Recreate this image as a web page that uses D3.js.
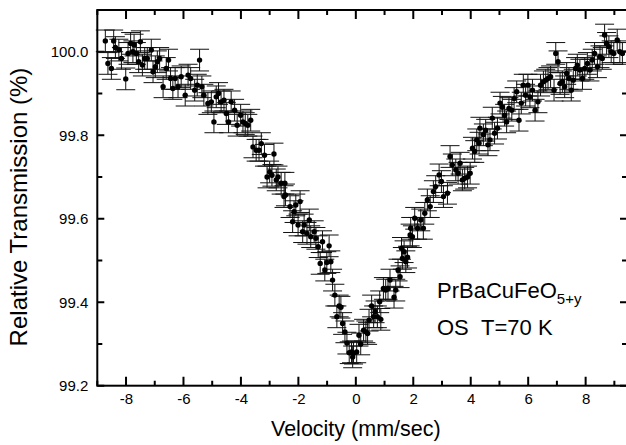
<!DOCTYPE html>
<html>
<head>
<meta charset="utf-8">
<script src="https://cdnjs.cloudflare.com/ajax/libs/d3/7.8.5/d3.min.js"></script>
<style>
  html, body { margin: 0; padding: 0; background: #fff; }
  svg { display: block; font-family: Arial, 'Liberation Sans', sans-serif; }
</style>
</head>
<body>
<svg id="chart" width="626" height="445"></svg>
<script>
// velocity (mm/sec) and relative transmission (%)
const velocity = [
  -8.72, -8.63, -8.51, -8.43, -8.37, -8.25, -8.16, -8.01, -7.93, -7.84,
  -7.76, -7.72, -7.64, -7.56, -7.50, -7.43, -7.35, -7.26, -7.12, -7.06,
  -6.98, -6.91, -6.83, -6.71, -6.60, -6.52, -6.45, -6.37, -6.29, -6.19,
  -6.08, -5.94, -5.84, -5.75, -5.61, -5.52, -5.44, -5.36, -5.29, -5.15,
  -5.03, -4.94, -4.86, -4.78, -4.69, -4.59, -4.51, -4.43, -4.34, -4.22,
  -4.13, -4.01, -3.93, -3.85, -3.76, -3.66, -3.58, -3.47, -3.37, -3.29,
  -3.18, -3.09, -3.00, -2.92, -2.85, -2.77, -2.71, -2.60, -2.50, -2.47,
  -2.45, -2.29, -2.20, -2.15, -2.09, -2.01, -1.94, -1.85, -1.80, -1.70,
  -1.62, -1.57, -1.45, -1.39, -1.31, -1.24, -1.16, -1.08, -1.01, -0.93,
  -0.87, -0.81, -0.73, -0.66, -0.58, -0.52, -0.46, -0.38, -0.31, -0.23,
  -0.15, -0.11, -0.08, 0.03, 0.11, 0.17, 0.27, 0.35, 0.41, 0.46,
  0.55, 0.62, 0.67, 0.75, 0.83, 0.87, 0.96, 1.04, 1.12, 1.19,
  1.33, 1.39, 1.47, 1.54, 1.59, 1.62, 1.68, 1.74, 1.80, 1.89,
  1.91, 1.97, 2.05, 2.15, 2.26, 2.35, 2.40, 2.49, 2.59, 2.70,
  2.78, 2.90, 2.98, 3.05, 3.19, 3.28, 3.36, 3.48, 3.56, 3.63,
  3.71, 3.79, 3.89, 3.98, 4.06, 4.14, 4.21, 4.29, 4.32, 4.44,
  4.52, 4.60, 4.67, 4.75, 4.83, 4.93, 5.02, 5.10, 5.18, 5.25,
  5.33, 5.43, 5.51, 5.60, 5.68, 5.76, 5.83, 5.91, 5.99, 6.06,
  6.15, 6.24, 6.34, 6.43, 6.53, 6.61, 6.69, 6.78, 6.90, 6.96,
  7.04, 7.11, 7.19, 7.27, 7.34, 7.42, 7.50, 7.57, 7.65, 7.71,
  7.80, 7.89, 7.97, 8.06, 8.15, 8.23, 8.31, 8.41, 8.50, 8.58,
  8.66, 8.73, 8.81, 8.89, 8.98, 9.10, 9.19, 9.28
]
const transmission = [
  100.026, 99.972, 99.960, 100.026, 100.010, 100.004, 99.984, 99.935, 99.996, 100.020,
  100.000, 100.016, 99.996, 99.976, 100.024, 99.968, 99.984, 99.984, 100.004, 99.952,
  99.964, 99.976, 99.984, 99.916, 99.960, 99.980, 99.936, 99.912, 99.936, 99.916,
  99.940, 99.896, 99.944, 99.936, 99.908, 99.920, 99.980, 99.916, 99.896, 99.876,
  99.880, 99.832, 99.892, 99.900, 99.880, 99.884, 99.852, 99.832, 99.880, 99.860,
  99.824, 99.848, 99.832, 99.828, 99.824, 99.836, 99.772, 99.764, 99.764, 99.780,
  99.752, 99.700, 99.712, 99.704, 99.755, 99.693, 99.700, 99.685, 99.653, 99.685,
  99.657, 99.629, 99.593, 99.617, 99.633, 99.585, 99.641, 99.569, 99.585, 99.565,
  99.597, 99.557, 99.569, 99.553, 99.533, 99.493, 99.545, 99.477, 99.495, 99.535,
  99.497, 99.453, 99.417, 99.365, 99.391, 99.388, 99.349, 99.329, 99.302, 99.279,
  99.281, 99.269, 99.278, 99.281, 99.321, 99.300, 99.333, 99.329, 99.325, 99.357,
  99.391, 99.365, 99.377, 99.365, 99.401, 99.359, 99.433, 99.429, 99.433, 99.453,
  99.412, 99.429, 99.477, 99.461, 99.529, 99.505, 99.521, 99.497, 99.508, 99.561,
  99.577, 99.557, 99.601, 99.577, 99.597, 99.577, 99.613, 99.645, 99.629, 99.665,
  99.677, 99.705, 99.689, 99.653, 99.661, 99.749, 99.729, 99.717, 99.709, 99.733,
  99.693, 99.697, 99.700, 99.709, 99.769, 99.761, 99.789, 99.781, 99.817, 99.801,
  99.812, 99.777, 99.789, 99.841, 99.805, 99.817, 99.877, 99.867, 99.848, 99.832,
  99.864, 99.860, 99.888, 99.904, 99.836, 99.877, 99.920, 99.896, 99.920, 99.892,
  99.908, 99.860, 99.880, 99.920, 99.928, 99.932, 99.936, 99.940, 99.908, 99.996,
  99.976, 99.924, 99.928, 99.916, 99.948, 99.936, 99.908, 99.932, 99.960, 99.968,
  99.956, 99.936, 99.960, 99.972, 99.956, 99.980, 99.996, 99.964, 99.988, 99.984,
  100.040, 100.020, 100.012, 100.000, 99.996, 100.028, 100.000, 99.996
]
const errorHalf = 0.026   // statistical error, same for every channel

const xTicks = [-8, -6, -4, -2, 0, 2, 4, 6, 8]
const xMinorTicks = [-9, -7, -5, -3, -1, 1, 3, 5, 7, 9]
const yTicks = [99.2, 99.4, 99.6, 99.8, 100.0]
const yMinorTicks = [99.3, 99.5, 99.7, 99.9, 100.1]

const plotLeft = 97.3, plotRight = 627, plotTop = 10, plotBottom = 385.7
const majorLen = 9, minorLen = 5
const capWidth = 19
const dotRadius = 2.7

let svg = d3.select('#chart')

let xScale = d3.scaleLinear().domain([-9, 9.44]).range([plotLeft, plotRight])
let yScale = d3.scaleLinear().domain([99.2, 100.1]).range([plotBottom, plotTop])

let points = velocity.map((v, i) => ({v: v, t: transmission[i]}))

// inward tick marks, one path per side
let tickPath = function (values, len, side) {
  return values.map(d => {
    if (side === 'bottom') return `M${xScale(d)},${plotBottom}V${plotBottom - len}`
    if (side === 'top') return `M${xScale(d)},${plotTop}V${plotTop + len}`
    if (side === 'left') return `M${plotLeft},${yScale(d)}H${plotLeft + len}`
    return `M${plotRight},${yScale(d)}H${plotRight - len}`
  }).join('')
}
let tickLayer = svg.append('g').classed('tick-marks', true)
let tickSpecs = [
  [xTicks, majorLen, 'bottom'], [xMinorTicks, minorLen, 'bottom'],
  [xTicks, majorLen, 'top'], [xMinorTicks, minorLen, 'top'],
  [yTicks, majorLen - 2, 'left'], [yMinorTicks, minorLen, 'left'],
  [yTicks, majorLen - 2, 'right'], [yMinorTicks, minorLen, 'right']
]
tickLayer.selectAll('path')
  .data(tickSpecs)
  .enter()
  .append('path')
  .attr('d', d => tickPath(d[0], d[1], d[2]))
  .attr('fill', 'none')
  .attr('stroke', '#000')
  .attr('stroke-width', 2)

// error bars
let bars = svg.append('g').classed('errorbars', true)
  .selectAll('g')
  .data(points)
  .enter()
  .append('g')
  .style('stroke', '#111').style('stroke-width', 1)
bars.append('line')
  .attr('x1', d => xScale(d.v)).attr('x2', d => xScale(d.v))
  .attr('y1', d => yScale(d.t - errorHalf)).attr('y2', d => yScale(d.t + errorHalf))
bars.append('line')
  .attr('x1', d => xScale(d.v) - capWidth / 2).attr('x2', d => xScale(d.v) + capWidth / 2)
  .attr('y1', d => yScale(d.t + errorHalf)).attr('y2', d => yScale(d.t + errorHalf))
bars.append('line')
  .attr('x1', d => xScale(d.v) - capWidth / 2).attr('x2', d => xScale(d.v) + capWidth / 2)
  .attr('y1', d => yScale(d.t - errorHalf)).attr('y2', d => yScale(d.t - errorHalf))

svg.append('g').classed('dots', true)
  .selectAll('circle')
  .data(points)
  .enter()
  .append('circle')
  .attr('cx', d => xScale(d.v))
  .attr('cy', d => yScale(d.t))
  .attr('r', dotRadius)
  .style('fill', '#000')

// tick labels through d3 axes
let styleAxis = function (g) {
  g.select('.domain').remove()
  g.selectAll('.tick line').remove()
  g.selectAll('.tick text')
    .attr('fill', '#000')
    .style('font-size', '15px')
    .style('font-family', "Arial, 'Liberation Sans', sans-serif")
}
svg.append('g').attr('transform', `translate(0, ${plotBottom})`)
  .call(d3.axisBottom(xScale).tickValues(xTicks).tickSize(0).tickPadding(8)
    .tickFormat(d => d < 0 ? '-' + Math.abs(d) : d))
  .call(styleAxis)
svg.append('g').attr('transform', `translate(${plotLeft}, 0)`)
  .call(d3.axisLeft(yScale).tickValues(yTicks).tickSize(0).tickPadding(9)
    .tickFormat(d3.format('.1f')))
  .call(styleAxis)

svg.append('rect')
  .attr('x', plotLeft).attr('y', plotTop)
  .attr('width', plotRight - plotLeft).attr('height', plotBottom - plotTop)
  .style('fill', 'none').style('stroke', '#000').style('stroke-width', 2)

// titles
svg.append('text')
  .attr('x', xScale(0)).attr('y', 436)
  .style('text-anchor', 'middle').style('font-size', '21.5px')
  .text('Velocity (mm/sec)')
svg.append('text')
  .attr('transform', `translate(27, 207) rotate(-90)`)
  .style('text-anchor', 'middle').style('font-size', '24px')
  .text('Relative Transmission (%)')

// sample annotation
let note = svg.append('text').attr('x', 437).attr('y', 298).style('font-size', '22px')
note.append('tspan').text('PrBaCuFeO')
note.append('tspan').attr('dy', 6).style('font-size', '15px').text('5+y')
svg.append('text').attr('x', 437).attr('y', 335).style('font-size', '22px')
  .text('OS\u00a0\u00a0T=70 K')
</script>
</body>
</html>
